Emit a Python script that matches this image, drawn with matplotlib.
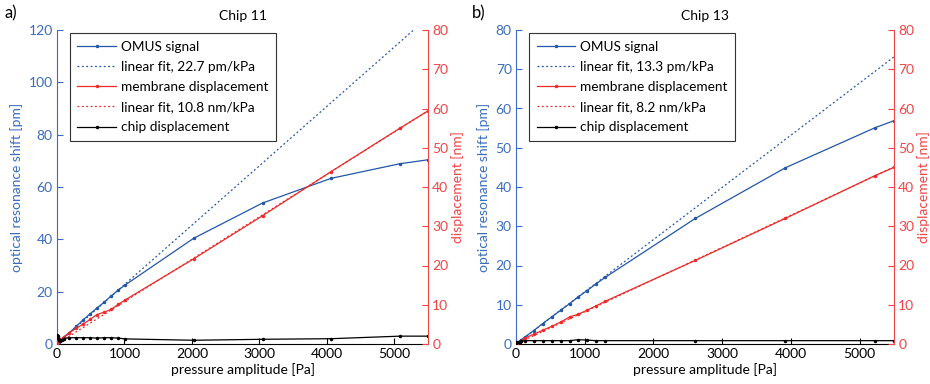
import matplotlib
matplotlib.use("Agg")
import matplotlib.pyplot as plt
import numpy as np
from matplotlib.lines import Line2D

plt.rcParams['font.family'] = ['Lato', 'DejaVu Sans']
plt.rcParams['font.size'] = 10

# ---------------- data ----------------
# Chip 11
p11 = [0, 10, 20, 30, 50, 70, 100, 183, 287, 390, 494, 593, 697, 800, 909, 1008,
       2026, 3049, 4062, 5085, 5500]
omus11 = [0, 0.3, 0.6, 0.9, 1.4, 1.9, 2.6, 4.3, 6.8, 9.3, 11.6, 13.8, 15.9, 18.3,
          20.6, 22.5, 40.4, 53.9, 63.3, 68.9, 70.4]
memb11 = [0, 0.5, 0.8, 1.0, 1.2, 1.4, 1.7, 2.9, 4.0, 5.1, 6.3, 7.5, 8.1, 8.8, 10.1,
          11.2, 21.7, 32.7, 43.9, 55.0, 59.4]
chip11 = [2.3, 1.5, 2.0, 1.0, 0.8, 1.0, 1.4, 1.6, 1.6, 1.6, 1.6, 1.5, 1.6, 1.6, 1.5,
          1.3, 0.95, 1.2, 1.35, 2.0, 2.0]
slope_omus11 = 22.7   # pm/kPa
slope_memb11 = 10.8   # nm/kPa

# Chip 13
p13 = [0, 20, 40, 60, 80, 126, 257, 388, 519, 650, 781, 907, 1033, 1164, 1300,
       2610, 3919, 5224, 5500]
omus13 = [0, 0.3, 0.5, 0.8, 1.1, 1.7, 3.4, 5.2, 6.9, 8.6, 10.3, 12.0, 13.6, 15.3,
          17.0, 32.0, 44.9, 55.1, 56.9]
memb13 = [0, 0.2, 0.4, 0.6, 0.8, 1.45, 2.5, 3.5, 4.5, 5.6, 6.9, 7.6, 8.6, 9.7, 10.9,
          21.3, 32.0, 42.9, 45.0]
chip13 = [0.3, 0.5, 0.4, 0.6, 0.7, 0.85, 0.85, 0.85, 0.85, 0.85, 0.85, 1.1, 1.0,
          0.85, 0.85, 0.85, 0.85, 0.85, 0.85]
slope_omus13 = 13.3
slope_memb13 = 8.2

panels = [
    dict(tag='a)', title='Chip 11', p=p11, omus=omus11, memb=memb11, chip=chip11,
         so=slope_omus11, sm=slope_memb11, ylim_l=120, yt_l=np.arange(0, 121, 20),
         pos=[57/930, 40/384, 371/930, 314/384], tagx=4/930),
    dict(tag='b)', title='Chip 13', p=p13, omus=omus13, memb=memb13, chip=chip13,
         so=slope_omus13, sm=slope_memb13, ylim_l=80, yt_l=np.arange(0, 81, 10),
         pos=[516/930, 40/384, 378/930, 314/384], tagx=472/930),
]

BLUE = '#2356a8'
BLUE_T = '#3a6cbf'
RED = '#ee2a2a'
RED_T = '#f04545'
FS = 10
LFS = 9.8

fig = plt.figure(figsize=(9.3, 3.84), dpi=100)

for P in panels:
    ax = fig.add_axes(P['pos'])
    ax2 = ax.twinx()
    xfit = np.array([0, 5500])
    ax.plot(P['p'], P['omus'], '-', color=BLUE, lw=0.9, marker='.', ms=3)
    ax.plot(xfit, xfit / 1000 * P['so'], color=BLUE, lw=0.9, ls=(0, (1.5, 2)))
    ax2.plot(P['p'], P['memb'], '-', color=RED, lw=0.9, marker='.', ms=3)
    ax2.plot(xfit, xfit / 1000 * P['sm'], color=RED, lw=0.9, ls=(0, (1.5, 2)))
    ax2.plot(P['p'], P['chip'], '-', color='black', lw=0.9, marker='.', ms=3)

    ax.set_xlim(0, 5500)
    ax.set_ylim(0, P['ylim_l'])
    ax.set_yticks(P['yt_l'])
    ax2.set_ylim(0, 80)
    ax2.set_yticks(np.arange(0, 81, 10))
    ax.set_xticks(np.arange(0, 5001, 1000))

    for s in ['top', 'right']:
        ax.spines[s].set_visible(False)
    for s in ['top', 'left', 'bottom']:
        ax2.spines[s].set_visible(False)
    ax.spines['left'].set_color(BLUE_T)
    ax.spines['bottom'].set_color('black')
    ax2.spines['right'].set_color(RED_T)
    ax.tick_params(axis='y', direction='in', colors=BLUE_T, length=4, width=0.8,
                   labelsize=FS, pad=3)
    ax.tick_params(axis='x', direction='in', colors='black', length=4, width=0.8,
                   labelsize=FS, pad=3)
    ax2.tick_params(axis='y', direction='in', colors=RED_T, length=4, width=0.8,
                    labelsize=FS, pad=3)
    ax.set_ylabel('optical resonance shift [pm]', color=BLUE_T, fontsize=FS, labelpad=4)
    ax2.set_ylabel('displacement [nm]', color=RED_T, fontsize=FS, rotation=90, labelpad=2)
    ax.set_xlabel('pressure amplitude [Pa]', fontsize=FS, labelpad=2)
    ax.set_title(P['title'], fontsize=FS, pad=7)
    fig.text(P['tagx'], 0.965, P['tag'], fontsize=12, va='center', ha='left')

    handles = [
        Line2D([], [], color=BLUE, lw=0.9, marker='.', ms=3),
        Line2D([], [], color=BLUE, lw=0.9, ls=(0, (1.5, 2))),
        Line2D([], [], color=RED, lw=0.9, marker='.', ms=3),
        Line2D([], [], color=RED, lw=0.9, ls=(0, (1.5, 2))),
        Line2D([], [], color='black', lw=0.9, marker='.', ms=3),
    ]
    labels = ['OMUS signal', 'linear fit, %.1f pm/kPa' % P['so'],
              'membrane displacement', 'linear fit, %.1f nm/kPa' % P['sm'],
              'chip displacement']
    leg = ax2.legend(handles, labels, loc='upper left', bbox_to_anchor=(0.035, 0.99),
                     fontsize=LFS, frameon=True, fancybox=False, edgecolor='#333333',
                     framealpha=1, handlelength=2.8, handletextpad=0.4,
                     labelspacing=0.6, borderpad=0.55, borderaxespad=0)
    leg.get_frame().set_linewidth(0.8)

fig.savefig('out.png', dpi=100)
